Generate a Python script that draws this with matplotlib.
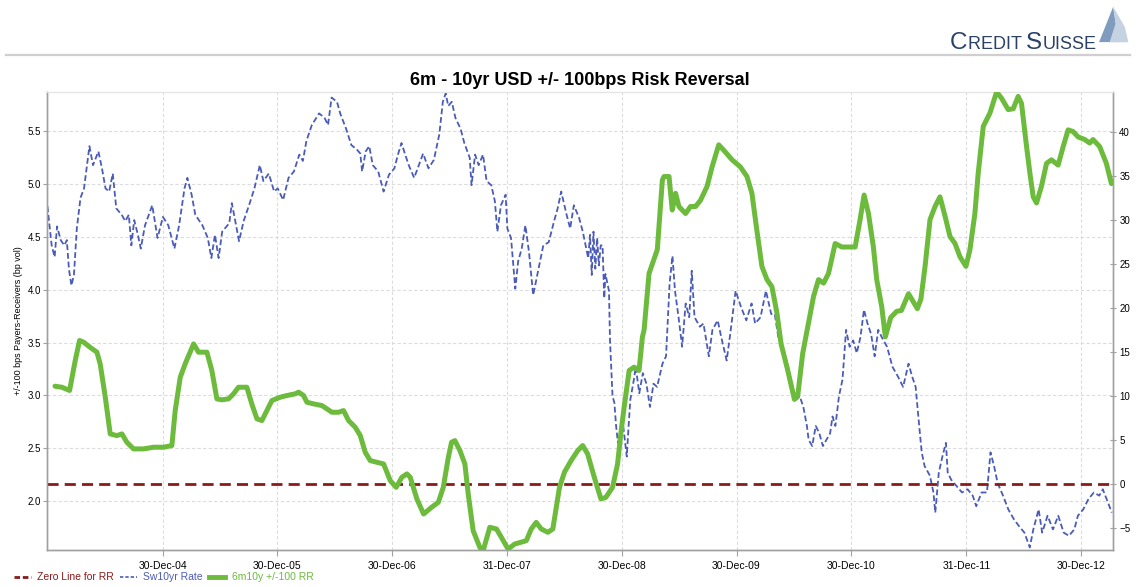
import datetime as dt

import matplotlib
matplotlib.use("Agg")
import matplotlib.dates as mdates
import matplotlib.pyplot as plt
import numpy as np
from matplotlib.lines import Line2D
from matplotlib.patches import Polygon

# Sw10yr swap rate (left axis, %), sampled as decimal years
rate_years = [
    2003.994, 2004.031, 2004.057, 2004.078, 2004.110, 2004.141, 2004.163, 2004.182,
    2004.203, 2004.225, 2004.250, 2004.282, 2004.313, 2004.360, 2004.391, 2004.438,
    2004.469, 2004.500, 2004.532, 2004.563, 2004.594, 2004.641, 2004.672, 2004.703,
    2004.725, 2004.750, 2004.782, 2004.807, 2004.844, 2004.907, 2004.953, 2005.000,
    2005.047, 2005.100, 2005.141, 2005.188, 2005.213, 2005.250, 2005.282, 2005.344,
    2005.391, 2005.422, 2005.453, 2005.485, 2005.516, 2005.578, 2005.600, 2005.625,
    2005.663, 2005.703, 2005.750, 2005.797, 2005.844, 2005.875, 2005.922, 2005.969,
    2006.000, 2006.047, 2006.094, 2006.141, 2006.188, 2006.219, 2006.250, 2006.297,
    2006.360, 2006.407, 2006.438, 2006.469, 2006.516, 2006.547, 2006.594, 2006.641,
    2006.688, 2006.719, 2006.735, 2006.766, 2006.797, 2006.828, 2006.875, 2006.922,
    2006.969, 2007.016, 2007.047, 2007.078, 2007.110, 2007.141, 2007.188, 2007.219,
    2007.266, 2007.313, 2007.360, 2007.407, 2007.438, 2007.463, 2007.485, 2007.516,
    2007.547, 2007.594, 2007.625, 2007.672, 2007.688, 2007.719, 2007.750, 2007.788,
    2007.819, 2007.860, 2007.891, 2007.913, 2007.944, 2007.985, 2008.000, 2008.032,
    2008.069, 2008.094, 2008.125, 2008.157, 2008.188, 2008.225, 2008.266, 2008.313,
    2008.360, 2008.407, 2008.438, 2008.469, 2008.516, 2008.547, 2008.579, 2008.625,
    2008.657, 2008.704, 2008.720, 2008.735, 2008.750, 2008.766, 2008.782, 2008.797,
    2008.813, 2008.829, 2008.844, 2008.854, 2008.885, 2008.894, 2008.916, 2008.932,
    2008.947, 2008.963, 2008.978, 2009.010, 2009.040, 2009.056, 2009.071, 2009.102,
    2009.118, 2009.149, 2009.180, 2009.211, 2009.242, 2009.273, 2009.304, 2009.351,
    2009.382, 2009.413, 2009.438, 2009.460, 2009.491, 2009.522, 2009.553, 2009.584,
    2009.606, 2009.630, 2009.677, 2009.708, 2009.755, 2009.786, 2009.832, 2009.863,
    2009.910, 2009.941, 2009.988, 2010.034, 2010.081, 2010.127, 2010.158, 2010.205,
    2010.252, 2010.298, 2010.329, 2010.360, 2010.407, 2010.438, 2010.469, 2010.516,
    2010.547, 2010.578, 2010.609, 2010.624, 2010.655, 2010.686, 2010.717, 2010.748,
    2010.780, 2010.811, 2010.832, 2010.857, 2010.888, 2010.919, 2010.950, 2010.981,
    2011.012, 2011.043, 2011.075, 2011.106, 2011.137, 2011.168, 2011.199, 2011.230,
    2011.261, 2011.307, 2011.354, 2011.401, 2011.447, 2011.494, 2011.525, 2011.556,
    2011.587, 2011.609, 2011.634, 2011.680, 2011.711, 2011.727, 2011.758, 2011.789,
    2011.820, 2011.835, 2011.866, 2011.913, 2011.960, 2012.009, 2012.053, 2012.084,
    2012.130, 2012.177, 2012.208, 2012.239, 2012.270, 2012.317, 2012.363, 2012.410,
    2012.457, 2012.503, 2012.550, 2012.581, 2012.627, 2012.658, 2012.705, 2012.752,
    2012.798, 2012.845, 2012.891, 2012.938, 2012.969, 2013.016, 2013.062, 2013.109,
    2013.155, 2013.186, 2013.233, 2013.264,
]
rate_values = [
    4.79, 4.42, 4.31, 4.60, 4.47, 4.42, 4.47, 4.19,
    4.04, 4.14, 4.58, 4.87, 4.96, 5.36, 5.18, 5.31,
    5.15, 4.96, 4.93, 5.10, 4.77, 4.71, 4.65, 4.71,
    4.42, 4.66, 4.52, 4.39, 4.61, 4.80, 4.49, 4.69,
    4.61, 4.39, 4.61, 4.96, 5.06, 4.90, 4.71, 4.61,
    4.49, 4.30, 4.52, 4.30, 4.55, 4.63, 4.82, 4.68,
    4.46, 4.65, 4.80, 4.96, 5.18, 5.03, 5.10, 4.93,
    4.96, 4.85, 5.06, 5.12, 5.28, 5.22, 5.41, 5.56,
    5.67, 5.63, 5.56, 5.82, 5.78, 5.66, 5.53, 5.37,
    5.33, 5.29, 5.12, 5.31, 5.36, 5.18, 5.12, 4.93,
    5.09, 5.15, 5.28, 5.39, 5.28, 5.18, 5.06, 5.15,
    5.29, 5.15, 5.23, 5.47, 5.78, 5.86, 5.74, 5.78,
    5.63, 5.52, 5.39, 5.25, 4.99, 5.28, 5.18, 5.28,
    5.03, 4.99, 4.84, 4.55, 4.80, 4.90, 4.58, 4.49,
    4.01, 4.27, 4.39, 4.61, 4.36, 3.95, 4.17, 4.42,
    4.45, 4.65, 4.77, 4.93, 4.71, 4.58, 4.80, 4.68,
    4.55, 4.30, 4.52, 4.14, 4.55, 4.20, 4.49, 4.23,
    4.42, 4.42, 3.92, 4.15, 3.99, 3.52, 2.99, 2.93,
    2.71, 2.55, 2.61, 2.70, 2.42, 2.71, 2.96, 3.15,
    3.27, 3.02, 3.21, 3.11, 2.89, 3.11, 3.08, 3.30,
    3.37, 4.06, 4.32, 3.99, 3.74, 3.46, 3.87, 3.74,
    4.18, 3.74, 3.65, 3.68, 3.37, 3.62, 3.71, 3.55,
    3.33, 3.58, 3.99, 3.84, 3.71, 3.87, 3.68, 3.74,
    3.99, 3.77, 3.77, 3.55, 3.43, 3.30, 3.15, 2.96,
    2.99, 2.89, 2.71, 2.58, 2.52, 2.71, 2.64, 2.52,
    2.58, 2.64, 2.80, 2.71, 2.99, 3.15, 3.62, 3.46,
    3.52, 3.40, 3.55, 3.81, 3.68, 3.58, 3.37, 3.62,
    3.55, 3.46, 3.27, 3.18, 3.08, 3.30, 3.18, 3.08,
    2.71, 2.46, 2.33, 2.24, 2.08, 1.89, 2.27, 2.42,
    2.55, 2.27, 2.20, 2.14, 2.08, 2.11, 2.05, 1.95,
    2.08, 2.08, 2.46, 2.33, 2.17, 2.05, 1.92, 1.83,
    1.76, 1.70, 1.56, 1.73, 1.92, 1.70, 1.86, 1.73,
    1.86, 1.70, 1.67, 1.73, 1.86, 1.92, 2.02, 2.08,
    2.05, 2.11, 1.98, 1.89,
]

# 6m10y +/-100 risk reversal (right axis, bp vol)
rr_years = [
    2004.060, 2004.077, 2004.120, 2004.187, 2004.236, 2004.274, 2004.309, 2004.367,
    2004.425, 2004.454, 2004.498, 2004.541, 2004.599, 2004.643, 2004.686, 2004.744,
    2004.831, 2004.919, 2005.006, 2005.078, 2005.107, 2005.151, 2005.194, 2005.267,
    2005.310, 2005.383, 2005.426, 2005.470, 2005.513, 2005.571, 2005.615, 2005.658,
    2005.731, 2005.774, 2005.819, 2005.862, 2005.905, 2005.949, 2006.022, 2006.080,
    2006.152, 2006.182, 2006.225, 2006.254, 2006.312, 2006.385, 2006.428, 2006.472,
    2006.530, 2006.573, 2006.617, 2006.675, 2006.719, 2006.762, 2006.806, 2006.864,
    2006.922, 2006.980, 2007.032, 2007.081, 2007.125, 2007.154, 2007.212, 2007.270,
    2007.340, 2007.399, 2007.442, 2007.486, 2007.514, 2007.543, 2007.587, 2007.630,
    2007.659, 2007.702, 2007.760, 2007.789, 2007.847, 2007.905, 2007.948, 2008.006,
    2008.064, 2008.165, 2008.208, 2008.251, 2008.295, 2008.353, 2008.396, 2008.454,
    2008.497, 2008.555, 2008.613, 2008.656, 2008.699, 2008.757, 2008.815, 2008.858,
    2008.916, 2008.960, 2008.988, 2009.017, 2009.061, 2009.104, 2009.147, 2009.176,
    2009.191, 2009.234, 2009.306, 2009.350, 2009.364, 2009.408, 2009.436, 2009.465,
    2009.494, 2009.552, 2009.595, 2009.639, 2009.682, 2009.740, 2009.783, 2009.841,
    2009.884, 2009.957, 2010.029, 2010.087, 2010.130, 2010.173, 2010.217, 2010.261,
    2010.304, 2010.348, 2010.384, 2010.442, 2010.500, 2010.529, 2010.572, 2010.616,
    2010.667, 2010.710, 2010.754, 2010.797, 2010.855, 2010.913, 2010.986, 2011.029,
    2011.072, 2011.107, 2011.145, 2011.188, 2011.217, 2011.261, 2011.292, 2011.339,
    2011.391, 2011.432, 2011.494, 2011.571, 2011.602, 2011.638, 2011.681, 2011.725,
    2011.768, 2011.812, 2011.855, 2011.899, 2011.942, 2011.994, 2012.029, 2012.072,
    2012.101, 2012.145, 2012.203, 2012.261, 2012.304, 2012.362, 2012.406, 2012.449,
    2012.478, 2012.522, 2012.551, 2012.580, 2012.609, 2012.652, 2012.696, 2012.739,
    2012.797, 2012.841, 2012.884, 2012.928, 2012.971, 2013.029, 2013.072, 2013.101,
    2013.159, 2013.217, 2013.261,
]
rr_values = [
    11.1, 11.06, 10.98, 10.61, 14.0, 16.29, 16.1, 15.5,
    14.96, 13.6, 9.85, 5.68, 5.49, 5.68, 4.73, 3.98,
    3.98, 4.17, 4.17, 4.36, 8.33, 12.12, 13.64, 15.9,
    14.96, 14.96, 12.88, 9.66, 9.55, 9.66, 10.23, 10.98,
    10.98, 9.09, 7.39, 7.2, 8.33, 9.47, 9.85, 10.04,
    10.23, 10.42, 10.04, 9.28, 9.09, 8.9, 8.52, 8.14,
    8.14, 8.33, 7.2, 6.44, 5.49, 3.6, 2.65, 2.46,
    2.27, 0.38, -0.38, 0.76, 1.14, 0.76, -1.7, -3.41,
    -2.65, -2.08, -0.38, 3.03, 4.73, 4.92, 3.79, 2.27,
    -1.14, -5.3, -7.2, -7.58, -4.92, -5.11, -6.06, -7.39,
    -6.82, -6.44, -5.11, -4.36, -5.11, -5.49, -5.11, -0.38,
    1.33, 2.65, 3.79, 4.36, 3.41, 0.76, -1.7, -1.52,
    -0.38, 2.27, 5.68, 8.71, 12.88, 13.26, 12.88, 16.67,
    17.5, 23.9, 26.6, 34.5, 34.9, 34.9, 31.1, 33.0,
    31.5, 30.7, 31.5, 31.5, 32.2, 33.8, 36.0, 38.5,
    37.9, 36.8, 36.0, 34.9, 33.0, 28.8, 24.7, 23.2,
    22.4, 19.4, 15.9, 12.9, 9.6, 10.0, 14.8, 17.8,
    21.3, 23.2, 22.8, 23.9, 27.3, 26.9, 26.9, 26.9,
    30.0, 32.8, 30.7, 26.9, 23.2, 20.1, 16.7, 18.9,
    19.6, 19.7, 21.6, 19.9, 21.0, 24.7, 30.0, 31.5,
    32.6, 30.4, 28.1, 27.3, 25.8, 24.7, 26.6, 30.7,
    35.3, 40.6, 42.1, 44.5, 43.8, 42.5, 42.6, 44.0,
    43.2, 38.3, 35.3, 32.6, 31.9, 33.8, 36.4, 36.8,
    36.2, 38.3, 40.2, 40.0, 39.4, 39.1, 38.7, 39.1,
    38.3, 36.4, 34.1,
]

tick_dates = ["2004-12-30", "2005-12-30", "2006-12-30", "2007-12-31", "2008-12-30",
              "2009-12-30", "2010-12-30", "2011-12-31", "2012-12-30"]
left_ticks = [2.0, 2.5, 3.0, 3.5, 4.0, 4.5, 5.0, 5.5]
right_ticks = [-5, 0, 5, 10, 15, 20, 25, 30, 35, 40]

RATE_BLUE = "#4b5cb8"
RR_GREEN = "#6cbb3c"
ZERO_RED = "#8b1a1a"
GRID = "#dcdcdc"
SPINE = "#a0a0a0"
LOGO_NAVY = "#2c4168"

plt.rcParams["font.family"] = ["Liberation Sans", "DejaVu Sans"]


def year_to_num(years):
    base = mdates.date2num(dt.datetime(2004, 1, 1))
    return base + (np.asarray(years, dtype=float) - 2004.0) * 365.25


fig = plt.figure(figsize=(11.37, 5.87), dpi=100)
ax = fig.add_axes([0.0413, 0.0630, 0.9376, 0.7803])
ax2 = ax.twinx()

# left axis: swap rate
ax.plot(year_to_num(rate_years), rate_values, color=RATE_BLUE, lw=1.3,
        linestyle=(0, (3.2, 1.6)), zorder=3)
ax.set_ylim(1.535, 5.873)
ax.set_xlim(year_to_num(2003.99), year_to_num(2013.275))
ax.set_yticks(left_ticks)
ax.set_yticklabels([f"{v:.1f}" for v in left_ticks])
ax.set_ylabel("+/-100 bps Payers-Receivers (bp vol)", fontsize=6.5, labelpad=3)

xt = [mdates.date2num(dt.datetime.strptime(d, "%Y-%m-%d")) for d in tick_dates]
ax.set_xticks(xt)
ax.xaxis.set_major_formatter(mdates.DateFormatter("%d-%b-%y"))
ax.grid(True, color=GRID, lw=0.8, linestyle=(0, (3, 2)))
ax.set_axisbelow(True)

# right axis: risk reversal and its zero line
ax2.axhline(0, color=ZERO_RED, lw=2.0, linestyle=(0, (4, 2.2)), zorder=2)
ax2.plot(year_to_num(rr_years), rr_values, color=RR_GREEN, lw=3.6,
         solid_joinstyle="round", solid_capstyle="round", zorder=3)
ax2.set_ylim(-7.5, 44.5)
ax2.set_yticks(right_ticks)

for a in (ax, ax2):
    for side in ("left", "right", "bottom"):
        a.spines[side].set_color(SPINE)
        a.spines[side].set_linewidth(1.0)
    a.spines["top"].set_color("#e4e4e4")
ax.tick_params(axis="y", labelsize=7, length=3, color=SPINE, pad=1.5)
ax.tick_params(axis="x", labelsize=7.5, length=4, color=SPINE, pad=4)
ax2.tick_params(axis="y", labelsize=7, length=5, color=SPINE, direction="inout", pad=2)

ax.set_title("6m - 10yr USD +/- 100bps Risk Reversal", fontsize=13,
             fontweight="bold", pad=5)

# legend along the bottom edge
handles = [
    Line2D([], [], color=ZERO_RED, lw=2.0, linestyle=(0, (2, 1))),
    Line2D([], [], color=RATE_BLUE, lw=1.2, linestyle=(0, (2, 1.2))),
    Line2D([], [], color=RR_GREEN, lw=3.5),
]
leg = fig.legend(handles, ["Zero Line for RR", "Sw10yr Rate", "6m10y +/-100 RR"],
                 loc="lower left", bbox_to_anchor=(0.004, -0.008), ncol=3,
                 frameon=False, fontsize=7.5, handlelength=1.6, handletextpad=0.6,
                 columnspacing=0.6)
for txt, col in zip(leg.get_texts(), [ZERO_RED, RATE_BLUE, RR_GREEN]):
    txt.set_color(col)

# header rule and house logo
fig.add_artist(Line2D([0.005, 0.994], [1 - 55 / 587] * 2, transform=fig.transFigure,
                      color="#cfcfcf", lw=1.6))

logo = fig.add_axes([0.962, 1 - 44 / 587, 0.031, 38 / 587])
logo.set_xlim(0, 1)
logo.set_ylim(0, 1)
logo.axis("off")
logo.add_patch(Polygon([[0.15, 0.05], [0.55, 0.98], [0.62, 0.55], [0.95, 0.05]],
                       closed=True, color="#7f9bbd", lw=0))
logo.add_patch(Polygon([[0.45, 0.05], [0.62, 0.55], [0.55, 0.98], [0.88, 0.45], [0.98, 0.05]],
                       closed=True, color="#c4d2e2", lw=0))

renderer = fig.canvas.get_renderer()
x_px = 950.0
base_y = 1 - 49 / 587
for piece, size in [("C", 17.5), ("REDIT ", 13), ("S", 17.5), ("UISSE", 13)]:
    t = fig.text(x_px / 1137, base_y, piece, fontsize=size, color=LOGO_NAVY,
                 va="baseline", ha="left", zorder=5)
    x_px = t.get_window_extent(renderer).x1

fig.savefig("out.png", dpi=100, facecolor="white")
